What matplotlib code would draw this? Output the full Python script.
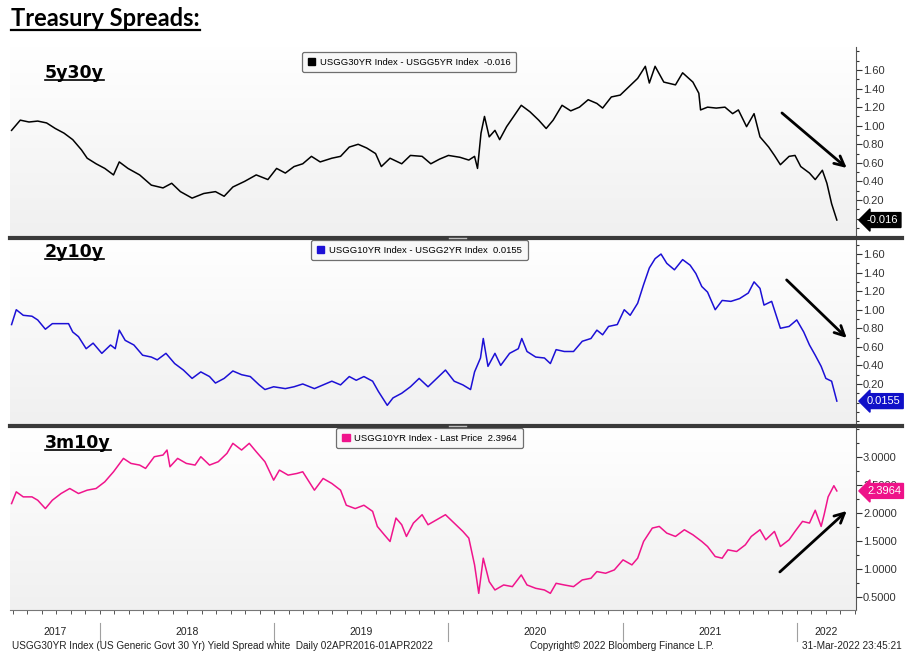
import matplotlib
matplotlib.use("Agg")
import matplotlib.pyplot as plt
import matplotlib.transforms as mtransforms
import numpy as np
from matplotlib.colors import LinearSegmentedColormap
from matplotlib.lines import Line2D
from matplotlib.patches import Patch
from matplotlib.ticker import FixedLocator, FormatStrFormatter, MultipleLocator

# ---- data (decimal years, spread values) ----
s5y30_t = [
    2017.493, 2017.543, 2017.593, 2017.643, 2017.694, 2017.744, 2017.794, 2017.844, 2017.894, 2017.927,
    2017.978, 2018.028, 2018.078, 2018.111, 2018.161, 2018.228, 2018.295, 2018.362, 2018.412, 2018.462,
    2018.529, 2018.596, 2018.663, 2018.713, 2018.763, 2018.830, 2018.897, 2018.964, 2019.014, 2019.064,
    2019.114, 2019.164, 2019.214, 2019.264, 2019.331, 2019.381, 2019.431, 2019.482, 2019.531, 2019.582,
    2019.615, 2019.665, 2019.732, 2019.782, 2019.849, 2019.899, 2019.949, 2020.000, 2020.066, 2020.117,
    2020.150, 2020.167, 2020.187, 2020.207, 2020.234, 2020.267, 2020.294, 2020.334, 2020.367, 2020.418,
    2020.468, 2020.518, 2020.561, 2020.601, 2020.652, 2020.702, 2020.752, 2020.802, 2020.852, 2020.885,
    2020.935, 2020.986, 2021.036, 2021.086, 2021.130, 2021.153, 2021.186, 2021.236, 2021.303, 2021.344,
    2021.403, 2021.437, 2021.447, 2021.487, 2021.537, 2021.587, 2021.631, 2021.664, 2021.711, 2021.754,
    2021.788, 2021.838, 2021.871, 2021.905, 2021.955, 2021.989, 2022.022, 2022.072, 2022.105, 2022.146,
    2022.172, 2022.199, 2022.229,
]
s5y30_v = [
    0.95, 1.06, 1.04, 1.05, 1.03, 0.97, 0.92, 0.85, 0.74, 0.65,
    0.59, 0.54, 0.47, 0.61, 0.54, 0.47, 0.36, 0.33, 0.38, 0.29,
    0.22, 0.27, 0.29, 0.24, 0.34, 0.40, 0.47, 0.42, 0.54, 0.49,
    0.56, 0.59, 0.67, 0.61, 0.65, 0.67, 0.77, 0.80, 0.76, 0.70,
    0.56, 0.65, 0.59, 0.68, 0.67, 0.59, 0.64, 0.68, 0.66, 0.63,
    0.67, 0.54, 0.92, 1.10, 0.88, 0.95, 0.85, 0.99, 1.08, 1.22,
    1.15, 1.06, 0.97, 1.06, 1.22, 1.16, 1.20, 1.28, 1.24, 1.19,
    1.31, 1.33, 1.42, 1.51, 1.64, 1.46, 1.64, 1.47, 1.44, 1.57,
    1.47, 1.35, 1.17, 1.20, 1.19, 1.20, 1.13, 1.17, 0.99, 1.13,
    0.88, 0.77, 0.68, 0.58, 0.67, 0.68, 0.56, 0.49, 0.42, 0.52,
    0.38, 0.16, -0.016,
]

s2y10_t = [
    2017.493, 2017.520, 2017.560, 2017.610, 2017.643, 2017.687, 2017.727, 2017.777, 2017.820, 2017.844,
    2017.877, 2017.921, 2017.961, 2018.011, 2018.061, 2018.088, 2018.111, 2018.145, 2018.195, 2018.245,
    2018.295, 2018.329, 2018.379, 2018.429, 2018.479, 2018.529, 2018.579, 2018.629, 2018.663, 2018.713,
    2018.763, 2018.813, 2018.863, 2018.914, 2018.947, 2018.997, 2019.064, 2019.114, 2019.164, 2019.231,
    2019.281, 2019.331, 2019.381, 2019.431, 2019.471, 2019.515, 2019.565, 2019.598, 2019.649, 2019.682,
    2019.732, 2019.782, 2019.832, 2019.883, 2019.933, 2019.983, 2020.033, 2020.083, 2020.127, 2020.150,
    2020.184, 2020.200, 2020.227, 2020.267, 2020.300, 2020.351, 2020.401, 2020.421, 2020.451, 2020.501,
    2020.551, 2020.585, 2020.618, 2020.665, 2020.718, 2020.768, 2020.818, 2020.852, 2020.885, 2020.919,
    2020.969, 2021.009, 2021.043, 2021.086, 2021.120, 2021.153, 2021.186, 2021.220, 2021.253, 2021.297,
    2021.344, 2021.387, 2021.420, 2021.454, 2021.487, 2021.531, 2021.571, 2021.621, 2021.671, 2021.721,
    2021.754, 2021.788, 2021.811, 2021.855, 2021.905, 2021.955, 2021.999, 2022.039, 2022.072, 2022.105,
    2022.139, 2022.166, 2022.199, 2022.229,
]
s2y10_v = [
    0.84, 1.00, 0.94, 0.93, 0.89, 0.79, 0.85, 0.85, 0.85, 0.76,
    0.71, 0.58, 0.64, 0.53, 0.62, 0.58, 0.78, 0.67, 0.62, 0.51,
    0.49, 0.46, 0.53, 0.42, 0.35, 0.26, 0.33, 0.28, 0.21, 0.26,
    0.34, 0.30, 0.28, 0.19, 0.14, 0.17, 0.15, 0.17, 0.20, 0.15,
    0.19, 0.23, 0.19, 0.28, 0.24, 0.28, 0.23, 0.12, -0.03, 0.05,
    0.10, 0.17, 0.26, 0.17, 0.26, 0.35, 0.23, 0.19, 0.14, 0.33,
    0.48, 0.69, 0.39, 0.53, 0.40, 0.53, 0.58, 0.69, 0.55, 0.49,
    0.48, 0.42, 0.57, 0.55, 0.55, 0.66, 0.69, 0.78, 0.73, 0.82,
    0.84, 1.00, 0.94, 1.07, 1.27, 1.45, 1.55, 1.60, 1.50, 1.43,
    1.54, 1.48, 1.39, 1.25, 1.19, 1.00, 1.10, 1.09, 1.12, 1.18,
    1.30, 1.23, 1.05, 1.09, 0.80, 0.82, 0.89, 0.76, 0.62, 0.51,
    0.39, 0.26, 0.23, 0.0155,
]

s3m10_t = [
    2017.493, 2017.520, 2017.560, 2017.610, 2017.643, 2017.687, 2017.727, 2017.777, 2017.827, 2017.877,
    2017.927, 2017.978, 2018.028, 2018.078, 2018.135, 2018.178, 2018.228, 2018.262, 2018.312, 2018.362,
    2018.385, 2018.402, 2018.446, 2018.496, 2018.546, 2018.579, 2018.629, 2018.679, 2018.729, 2018.763,
    2018.813, 2018.857, 2018.897, 2018.947, 2018.997, 2019.030, 2019.080, 2019.131, 2019.164, 2019.231,
    2019.281, 2019.331, 2019.381, 2019.414, 2019.465, 2019.515, 2019.565, 2019.592, 2019.632, 2019.665,
    2019.699, 2019.732, 2019.759, 2019.799, 2019.849, 2019.883, 2019.933, 2019.983, 2020.033, 2020.083,
    2020.117, 2020.150, 2020.174, 2020.200, 2020.234, 2020.267, 2020.317, 2020.367, 2020.418, 2020.451,
    2020.501, 2020.551, 2020.585, 2020.618, 2020.665, 2020.718, 2020.768, 2020.818, 2020.852, 2020.902,
    2020.952, 2021.002, 2021.053, 2021.086, 2021.120, 2021.170, 2021.210, 2021.253, 2021.303, 2021.354,
    2021.403, 2021.454, 2021.487, 2021.531, 2021.571, 2021.604, 2021.654, 2021.704, 2021.738, 2021.788,
    2021.821, 2021.871, 2021.905, 2021.955, 2021.989, 2022.032, 2022.072, 2022.105, 2022.139, 2022.156,
    2022.179, 2022.212, 2022.229,
]
s3m10_v = [
    2.17, 2.38, 2.29, 2.29, 2.23, 2.08, 2.23, 2.35, 2.44, 2.35,
    2.41, 2.44, 2.56, 2.74, 2.98, 2.89, 2.86, 2.80, 3.01, 3.04,
    3.13, 2.83, 2.98, 2.89, 2.86, 3.01, 2.86, 2.92, 3.07, 3.25,
    3.13, 3.25, 3.10, 2.92, 2.59, 2.77, 2.68, 2.71, 2.74, 2.41,
    2.62, 2.53, 2.41, 2.14, 2.08, 2.14, 2.03, 1.76, 1.61, 1.49,
    1.91, 1.79, 1.58, 1.82, 1.97, 1.79, 1.88, 1.97, 1.82, 1.67,
    1.55, 1.07, 0.56, 1.19, 0.77, 0.62, 0.71, 0.68, 0.89, 0.71,
    0.65, 0.62, 0.56, 0.74, 0.71, 0.68, 0.80, 0.83, 0.95, 0.92,
    0.98, 1.16, 1.07, 1.19, 1.49, 1.73, 1.76, 1.64, 1.58, 1.70,
    1.61, 1.49, 1.40, 1.22, 1.19, 1.34, 1.31, 1.43, 1.58, 1.70,
    1.52, 1.67, 1.40, 1.52, 1.67, 1.85, 1.82, 2.05, 1.76, 1.97,
    2.29, 2.49, 2.3964,
]

panel_names = ["5y30y", "2y10y", "3m10y"]
legend_labels = [
    "USGG30YR Index - USGG5YR Index  -0.016",
    "USGG10YR Index - USGG2YR Index  0.0155",
    "USGG10YR Index - Last Price  2.3964",
]
last_labels = ["-0.016", "0.0155", "2.3964"]
years = [2017, 2018, 2019, 2020, 2021, 2022]

# ---- layout (pixel based, figure is 913 x 666) ----
W, H = 913, 666
LEFT, RIGHT = 10, 856
PANELS = [(47, 236), (239, 425), (427, 610)]
XLIM = (2017.484, 2022.339)
YLIMS = [(-0.188, 1.848), (-0.242, 1.762), (0.261, 3.543)]
COLORS = ["#000000", "#1c10d6", "#f0148c"]
BOX_COLORS = ["#000000", "#1010c8", "#ee1289"]
SMALL = ["Liberation Sans Narrow", "Liberation Sans", "DejaVu Sans"]


def fx(px):
    return px / W


def fy(py):
    return 1 - py / H


fig = plt.figure(figsize=(W / 100, H / 100), dpi=100)
fig.patch.set_facecolor("white")

bg_cmap = LinearSegmentedColormap.from_list("bg", ["#ffffff", "#f0f0f0"])
series = [(s5y30_t, s5y30_v), (s2y10_t, s2y10_v), (s3m10_t, s3m10_v)]
# arrow start/end in axes fraction
arrows = [((0.9125, 0.651), (0.989, 0.360)),
          ((0.918, 0.780), (0.989, 0.468)),
          ((0.910, 0.208), (0.989, 0.541))]
legend_pos = [(0.472, 0.974), (0.484, 0.995), (0.496, 0.995)]

axes = []
for i, (top, bot) in enumerate(PANELS):
    ax = fig.add_axes([fx(LEFT), fy(bot), (RIGHT - LEFT) / W, (bot - top) / H])
    ax.imshow(np.linspace(0, 1, 200).reshape(-1, 1), cmap=bg_cmap, aspect="auto",
              extent=[0, 1, 0, 1], transform=ax.transAxes, zorder=0)
    t, v = series[i]
    ax.plot(t, v, color=COLORS[i], lw=1.1, zorder=3)
    ax.set_xlim(*XLIM)
    ax.set_ylim(*YLIMS[i])

    for side in ["top", "left", "bottom"]:
        ax.spines[side].set_visible(False)
    ax.spines["right"].set_color("#555555")
    ax.spines["right"].set_linewidth(0.8)

    ax.yaxis.tick_right()
    if i < 2:
        ax.yaxis.set_major_locator(FixedLocator(np.arange(0.2, 1.61, 0.2)))
        ax.yaxis.set_minor_locator(MultipleLocator(0.1))
        ax.yaxis.set_major_formatter(FormatStrFormatter("%.2f"))
    else:
        ax.yaxis.set_major_locator(FixedLocator(np.arange(0.5, 3.01, 0.5)))
        ax.yaxis.set_minor_locator(MultipleLocator(0.25))
        ax.yaxis.set_major_formatter(FormatStrFormatter("%.4f"))
    ax.tick_params(axis="y", which="major", direction="out", length=4, width=0.8,
                   colors="#333333", labelsize=8, pad=1)
    ax.tick_params(axis="y", which="minor", direction="out", length=2, width=0.8, colors="#333333")
    for lab in ax.get_yticklabels():
        lab.set_family(["Liberation Sans", "DejaVu Sans"])

    if i < 2:
        ax.set_xticks([])
    else:
        ax.spines["bottom"].set_visible(True)
        ax.spines["bottom"].set_color("#777777")
        ax.spines["bottom"].set_linewidth(0.8)
        ax.xaxis.set_major_locator(MultipleLocator(1 / 12))
        ax.tick_params(axis="x", which="major", direction="out", length=3, width=0.7,
                       colors="#555555", labelbottom=False)

    # last value tag
    blend = mtransforms.blended_transform_factory(ax.transAxes, ax.transData)
    ax.text(1.013, v[-1], last_labels[i], transform=blend, ha="left", va="center",
            color="white", fontsize=8, family=["Liberation Sans", "DejaVu Sans"], zorder=10,
            clip_on=False,
            bbox=dict(boxstyle="larrow,pad=0.22", fc=BOX_COLORS[i], ec=BOX_COLORS[i]))

    # legend box
    leg = ax.legend(handles=[Patch(facecolor=COLORS[i], edgecolor=COLORS[i])],
                    labels=[legend_labels[i]], loc="upper center",
                    bbox_to_anchor=legend_pos[i], frameon=True, fancybox=True,
                    framealpha=1, facecolor="#f8f8f8", edgecolor="#6f6f6f",
                    handlelength=0.8, handleheight=0.8, handletextpad=0.5,
                    borderpad=0.6, borderaxespad=0,
                    prop=dict(family=SMALL, size=6.8))
    leg.get_frame().set_linewidth(0.9)
    leg.set_zorder(8)

    # trend arrow
    (sx, sy), (ex, ey) = arrows[i]
    ax.annotate("", xy=(ex, ey), xytext=(sx, sy), xycoords="axes fraction",
                arrowprops=dict(arrowstyle="->,head_length=0.7,head_width=0.35",
                                lw=2, color="black", shrinkA=0, shrinkB=0), zorder=6)
    axes.append(ax)

# dark separators between panels
for y in [237.5, 426]:
    fig.add_artist(Line2D([fx(LEFT), fx(902)], [fy(y), fy(y)], transform=fig.transFigure,
                          color="#3a3a3a", lw=3))
    fig.add_artist(Line2D([fx(449), fx(466)], [fy(y), fy(y)], transform=fig.transFigure,
                          color="#bdbdbd", lw=1))

# year labels and separators under the bottom panel
ax3 = axes[2]
bl = mtransforms.blended_transform_factory(ax3.transData, ax3.transAxes)
for k, yr in enumerate(years):
    lo = max(yr, XLIM[0])
    hi = min(yr + 1, XLIM[1])
    ax3.text((lo + hi) / 2, -0.12, str(yr), transform=bl, ha="center", va="center",
             fontsize=7.5, family=SMALL, color="#222222", clip_on=False)
    if k > 0:
        ax3.add_line(Line2D([yr, yr], [-0.07, -0.17], transform=bl, color="#a0a0a0",
                            lw=0.8, clip_on=False))

# footer
fig.text(fx(12), fy(646), "USGG30YR Index (US Generic Govt 30 Yr) Yield Spread white  Daily 02APR2016-01APR2022",
         ha="left", va="center", fontsize=7.2, family=SMALL, color="#222222")
fig.text(fx(530), fy(646), "Copyright\u00a9 2022 Bloomberg Finance L.P.",
         ha="left", va="center", fontsize=7.2, family=SMALL, color="#222222")
fig.text(fx(902), fy(646), "31-Mar-2022 23:45:21",
         ha="right", va="center", fontsize=7.2, family=SMALL, color="#222222")

# title and panel names, underlined
title = fig.text(fx(11), fy(26), "Treasury Spreads:", ha="left", va="baseline",
                 fontsize=17, fontweight="bold", family=["Lato", "DejaVu Sans"])
name_y = [78, 257, 448]
names = []
for i, nm in enumerate(panel_names):
    names.append(fig.text(fx(45), fy(name_y[i]), nm, ha="left", va="baseline",
                          fontsize=12.5, fontweight="bold", family=["DejaVu Sans"], zorder=9))

fig.canvas.draw()
inv = fig.transFigure.inverted()


def underline(txt, y_px, lw):
    bb = txt.get_window_extent()
    x0 = inv.transform((bb.x0, 0))[0]
    x1 = inv.transform((bb.x1, 0))[0]
    fig.add_artist(Line2D([x0, x1], [fy(y_px), fy(y_px)], transform=fig.transFigure,
                          color="black", lw=lw))


underline(title, 29.5, 1.6)
for i, nm in enumerate(names):
    underline(nm, name_y[i] + 2, 1.2)

fig.savefig("out.png", dpi=100)
